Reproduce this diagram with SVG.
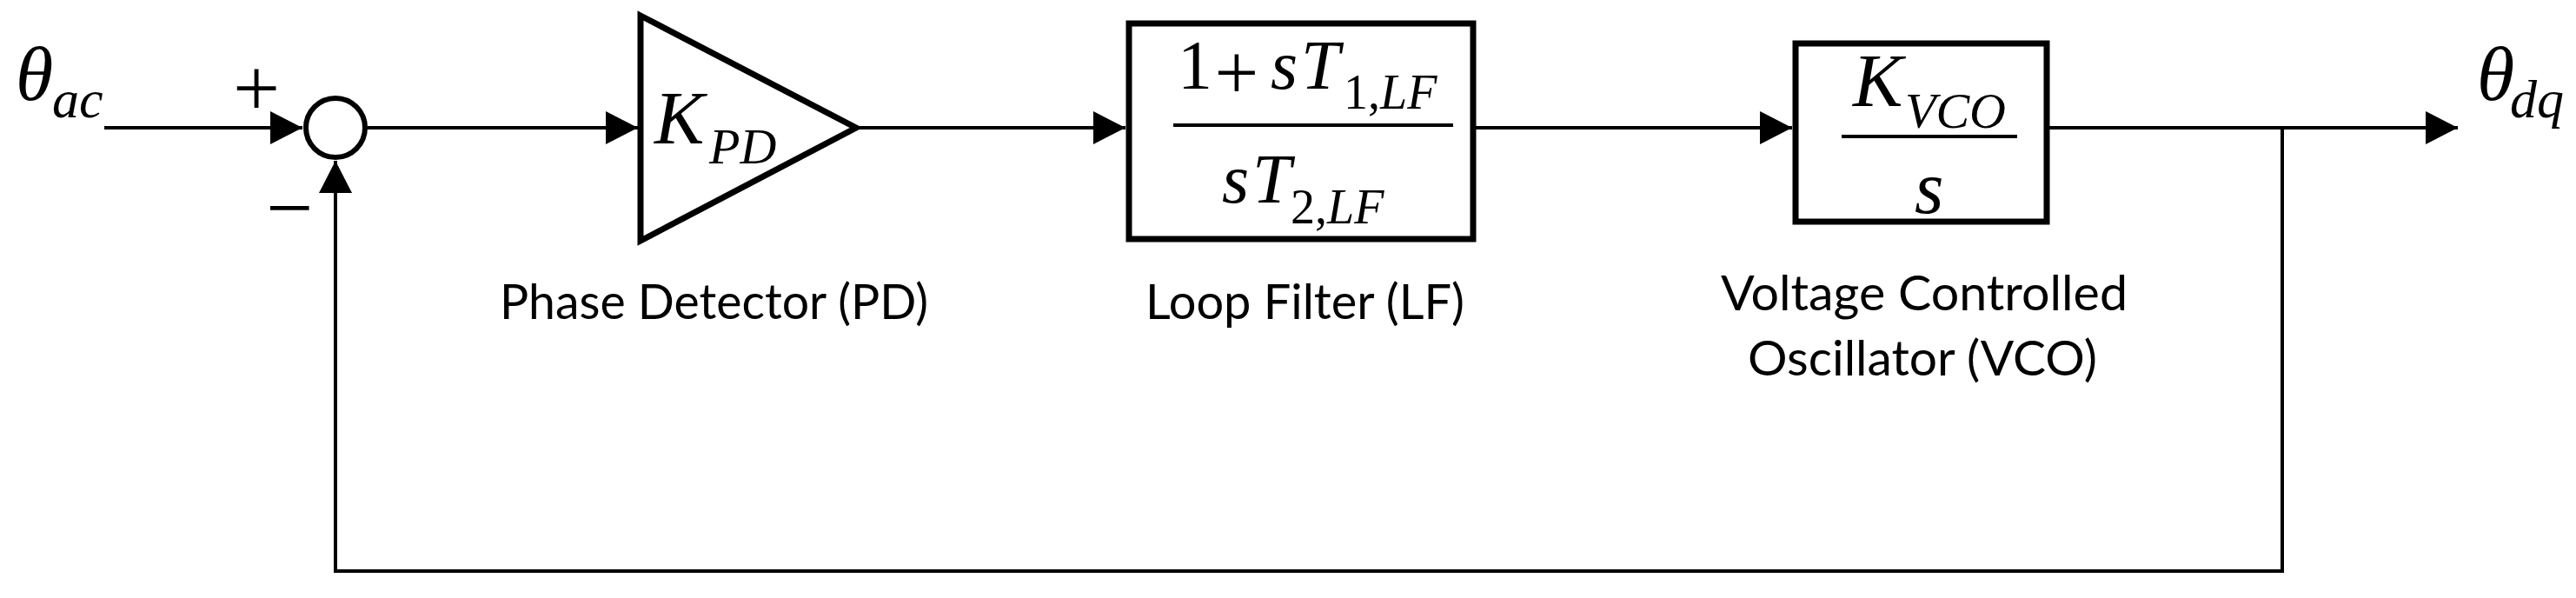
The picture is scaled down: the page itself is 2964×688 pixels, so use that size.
<svg xmlns="http://www.w3.org/2000/svg" width="2964" height="688" viewBox="0 0 2964 688">
<style>
.ln{fill:none;stroke:#000;stroke-width:4}
.blk{fill:#fff;stroke:#000;stroke-width:7;stroke-linejoin:miter}
.m{font-family:"Liberation Serif","Times New Roman",serif;fill:#000}
.i{font-style:italic}
.lbl{font-family:Lato,"Open Sans",sans-serif;font-size:56px;fill:#000}
</style>
<defs>
<marker id="ah" markerUnits="userSpaceOnUse" markerWidth="38" markerHeight="38" refX="37" refY="19" orient="auto">
<path d="M0,0 L37,19 L0,38 z" fill="#000"/>
</marker>
</defs>
<rect width="2964" height="688" fill="#fff"/>
<g id="connectors">
<line class="ln" x1="120" y1="147" x2="348" y2="147" marker-end="url(#ah)"/>
<line class="ln" x1="420" y1="147" x2="734" y2="147" marker-end="url(#ah)"/>
<line class="ln" x1="988" y1="147" x2="1295" y2="147" marker-end="url(#ah)"/>
<line class="ln" x1="1698" y1="147" x2="2062" y2="147" marker-end="url(#ah)"/>
<line class="ln" x1="2358" y1="147" x2="2828" y2="147" marker-end="url(#ah)"/>
<path class="ln" d="M2626,147 V657 H386 V185" marker-end="url(#ah)"/>
</g>
<g id="input">
<text class="m i" x="18" y="115" font-size="88">θ</text>
<text class="m i" x="60" y="135" font-size="62">ac</text>
</g>
<g id="sum">
<circle cx="386" cy="147" r="34" fill="#fff" stroke="#000" stroke-width="6"/>
<text class="m" x="295" y="133" font-size="96" text-anchor="middle">+</text>
<text class="m" x="333" y="271" font-size="96" text-anchor="middle">−</text>
</g>
<g id="pd">
<polygon class="blk" points="737,18 985,147 737,277"/>
<text class="m i" x="753" y="165" font-size="86">K</text>
<text class="m i" x="816" y="188" font-size="58">PD</text>
<text class="lbl" x="575" y="367" textLength="493" lengthAdjust="spacingAndGlyphs">Phase Detector (PD)</text>
</g>
<g id="lf">
<rect class="blk" x="1299" y="27" width="396" height="248"/>
<text class="m" x="1355" y="102" font-size="80">1</text>
<text class="m" x="1423" y="114" font-size="90" text-anchor="middle">+</text>
<text class="m i" x="1462" y="102" font-size="80">s</text>
<text class="m i" x="1497" y="102" font-size="80">T</text>
<text class="m" x="1546" y="125" font-size="56">1,<tspan class="i">LF</tspan></text>
<line class="ln" x1="1350" y1="144" x2="1672" y2="144"/>
<text class="m i" x="1406" y="233" font-size="80">s</text>
<text class="m i" x="1441" y="233" font-size="80">T</text>
<text class="m" x="1485" y="257" font-size="56">2,<tspan class="i">LF</tspan></text>
<text class="lbl" x="1318" y="367" textLength="367" lengthAdjust="spacingAndGlyphs">Loop Filter (LF)</text>
</g>
<g id="vco">
<rect class="blk" x="2066" y="50" width="289" height="205"/>
<text class="m i" x="2132" y="122" font-size="86">K</text>
<text class="m i" x="2192" y="147" font-size="58">VCO</text>
<line class="ln" x1="2119" y1="157" x2="2321" y2="157"/>
<text class="m i" x="2203" y="245" font-size="86">s</text>
<text class="lbl" x="1980" y="357" textLength="468" lengthAdjust="spacingAndGlyphs">Voltage Controlled</text>
<text class="lbl" x="2011" y="432" textLength="402" lengthAdjust="spacingAndGlyphs">Oscillator (VCO)</text>
</g>
<g id="output">
<text class="m i" x="2850" y="115" font-size="88">θ</text>
<text class="m i" x="2888" y="135" font-size="62">dq</text>
</g>
</svg>
